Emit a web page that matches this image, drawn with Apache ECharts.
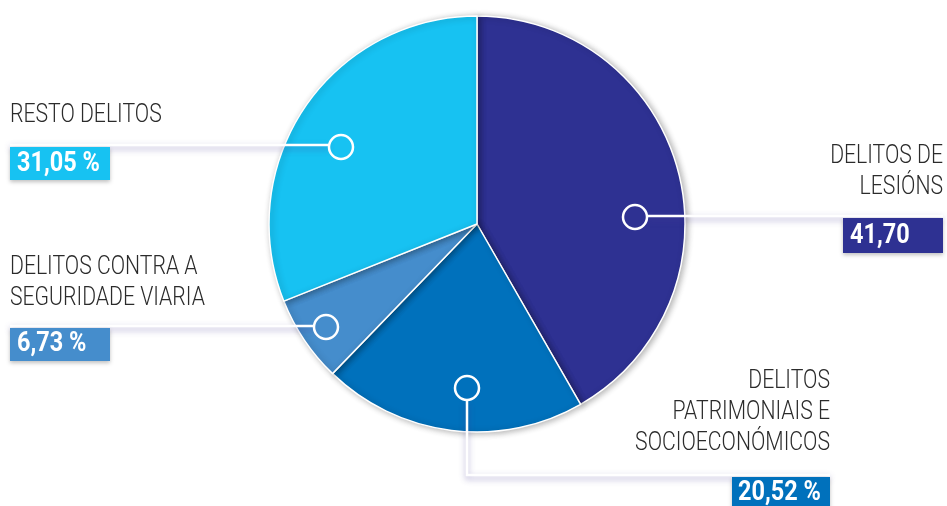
<!DOCTYPE html>
<html><head><meta charset="utf-8">
<script src="https://cdn.jsdelivr.net/npm/echarts@6/dist/echarts.min.js"></script>
<style>html,body{margin:0;padding:0;background:#fff}#c{width:947px;height:506px}</style>
</head><body><div id="c"></div>
<script>
var categories = ['DELITOS DE LESIÓNS', 'DELITOS PATRIMONIAIS E SOCIOECONÓMICOS', 'DELITOS CONTRA A SEGURIDADE VIARIA', 'RESTO DELITOS'];
var labelTexts = ['DELITOS DE\nLESIÓNS', 'DELITOS\nPATRIMONIAIS E\nSOCIOECONÓMICOS', 'DELITOS CONTRA A\nSEGURIDADE VIARIA', 'RESTO DELITOS'];
var values = [41.70, 20.52, 6.73, 31.05];
var valueSuffix = ['', ' %', ' %', ' %'];
var colors = ['#2e3192', '#0071bc', '#458dcc', '#17c2f2'];

var FONT = 'Roboto, "Liberation Sans", sans-serif';
function fmt(i){ return values[i].toFixed(2).replace('.', ',') + valueSuffix[i]; }

// annotation layout (positions only)
var layout = [
  {circle:[635,217], line:[[647,216],[943,216]], text:{x:943,y:141,align:'right'}, box:[843,218,100,35], vt:[850,236]},
  {circle:[467,388], line:[[467,400],[467,475],[830,475]], text:{x:830,y:366,align:'right'}, box:[732,477,98,32], vt:[738,493]},
  {circle:[326,327], line:[[10,326],[314,326]], text:{x:10,y:252,align:'left'}, box:[10,328,100,33], vt:[17,344]},
  {circle:[341,147], line:[[10,145],[329,145]], text:{x:10,y:100,align:'left'}, box:[10,147,100,33], vt:[17,164]}
];

var g = [];
layout.forEach(function(L, i){
  g.push({type:'polyline', z:100, shape:{points:L.line},
    style:{stroke:'#fff', lineWidth:2.5, fill:null, shadowColor:'rgba(70,60,150,0.45)', shadowBlur:6, shadowOffsetY:3}});
  g.push({type:'rect', z:100, shape:{x:L.box[0], y:L.box[1], width:L.box[2], height:L.box[3]},
    style:{fill:colors[i], shadowColor:'rgba(0,0,0,0.25)', shadowBlur:4, shadowOffsetY:2}});
  g.push({type:'text', z:101, x:L.vt[0], y:L.vt[1], scaleX:0.87,
    style:{text:fmt(i), fill:'#fff', font:'bold 27px ' + FONT, textAlign:'left', textVerticalAlign:'middle'}});
  g.push({type:'text', z:101, x:L.text.x, y:L.text.y, scaleX:0.815,
    style:{text:labelTexts[i], fill:'#2b2b2b', font:'300 26px ' + FONT, lineHeight:31, textAlign:L.text.align, textVerticalAlign:'top'}});
  g.push({type:'circle', z:102, shape:{cx:L.circle[0], cy:L.circle[1], r:12},
    style:{fill:null, stroke:'#fff', lineWidth:2.5}});
});

var chart = echarts.init(document.getElementById('c'));
chart.setOption({
  animation:false,
  backgroundColor:'#fff',
  series:[{
    type:'pie', center:[477,224], radius:208, startAngle:90, clockwise:true,
    label:{show:false}, labelLine:{show:false}, silent:true,
    itemStyle:{borderColor:'#fff', borderWidth:1.5, shadowColor:'rgba(0,0,0,0.3)', shadowBlur:6, shadowOffsetX:2, shadowOffsetY:1},
    data: values.map(function(v,i){ return {name:categories[i], value:v, itemStyle:{color:colors[i]}}; })
  }],
  graphic: g
});
</script></body></html>
